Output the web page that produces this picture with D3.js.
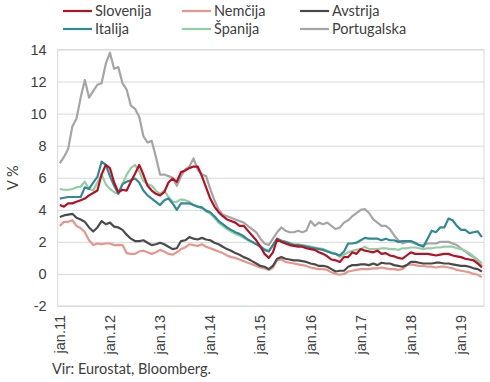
<!DOCTYPE html>
<html>
<head>
<meta charset="utf-8">
<script src="https://cdn.jsdelivr.net/npm/d3@7"></script>
<style>
html,body{margin:0;padding:0;background:#fff;}
svg{display:block;font-family:Lato,"Open Sans",sans-serif;}
</style>
</head>
<body>
<div id="chart"></div>
<script>
const tickLabels = ["jan.11","jan.12","jan.13","jan.14","jan.15","jan.16","jan.17","jan.18","jan.19"];
const yTicks = [-2,0,2,4,6,8,10,12,14];
const seriesNames = ["Slovenija","Nemčija","Avstrija","Italija","Španija","Portugalska"];
const seriesColors = ["#B80F24","#E8958F","#4A4A4A","#2F8A96","#93CFA3","#A5A5A5"];

const slovenija = [4.3,4.2,4.4,4.4,4.5,4.6,4.7,4.9,5.05,5.2,6.2,6.8,6.6,5.7,5.1,5.25,5.2,5.75,6.25,6.8,6.2,5.5,5.2,5.0,4.9,5.1,5.7,5.95,5.75,6.35,6.45,6.6,6.7,6.7,6.1,5.4,4.7,4.2,3.85,3.6,3.4,3.3,3.2,3.0,3.0,2.7,2.4,2.1,1.7,1.25,1.0,1.35,2.15,2.0,1.9,1.8,1.75,1.7,1.7,1.6,1.55,1.5,1.35,1.25,1.1,0.9,0.85,0.75,1.05,1.05,1.35,1.25,1.55,1.45,1.4,1.35,1.45,1.25,1.3,1.15,1.1,1.0,0.95,1.15,1.35,1.25,1.25,1.25,1.25,1.2,1.15,1.2,1.25,1.25,1.15,1.1,1.05,0.95,0.9,0.85,0.65,0.4];
const nemcija = [3.0,3.25,3.25,3.35,3.0,2.85,2.6,2.1,1.8,1.9,1.85,1.9,1.9,1.8,1.8,1.8,1.3,1.25,1.25,1.4,1.45,1.35,1.25,1.35,1.5,1.4,1.25,1.2,1.35,1.55,1.65,1.85,1.8,1.75,1.85,1.7,1.6,1.5,1.4,1.3,1.15,1.05,1.0,0.9,0.8,0.7,0.6,0.5,0.4,0.35,0.25,0.4,0.85,0.9,0.75,0.7,0.65,0.6,0.55,0.5,0.4,0.35,0.3,0.3,0.25,0.1,0.0,-0.05,0.0,0.15,0.2,0.25,0.3,0.3,0.3,0.35,0.35,0.4,0.35,0.3,0.3,0.25,0.3,0.55,0.6,0.55,0.5,0.5,0.45,0.45,0.4,0.45,0.45,0.4,0.35,0.25,0.2,0.15,0.1,0.0,-0.05,-0.2];
const avstrija = [3.55,3.65,3.7,3.75,3.5,3.4,3.25,2.9,2.65,2.9,3.3,3.1,3.2,2.95,2.9,2.75,2.45,2.2,2.05,2.05,2.1,1.95,1.8,1.85,1.95,1.85,1.7,1.55,1.6,2.05,2.1,2.3,2.2,2.15,2.25,2.15,2.1,1.95,1.85,1.7,1.55,1.45,1.3,1.2,1.05,0.95,0.8,0.65,0.5,0.45,0.3,0.5,0.95,1.05,0.95,0.9,0.85,0.85,0.8,0.75,0.65,0.6,0.5,0.5,0.45,0.3,0.15,0.2,0.2,0.45,0.55,0.55,0.6,0.6,0.55,0.65,0.55,0.7,0.65,0.65,0.55,0.5,0.45,0.55,0.75,0.75,0.7,0.65,0.65,0.65,0.7,0.7,0.65,0.65,0.6,0.55,0.5,0.5,0.45,0.35,0.3,0.15];
const italija = [4.7,4.75,4.8,4.8,4.8,4.8,5.4,5.3,5.7,6.05,7.0,6.8,6.1,5.5,5.0,5.6,5.75,5.85,5.95,5.7,5.2,4.9,4.7,4.5,4.3,4.6,4.7,4.4,4.0,4.4,4.4,4.4,4.3,4.2,4.15,3.95,3.85,3.6,3.3,3.1,2.9,2.75,2.6,2.5,2.35,2.15,2.0,1.85,1.7,1.5,1.4,1.8,2.2,2.05,2.0,1.9,1.8,1.8,1.75,1.7,1.65,1.6,1.55,1.5,1.4,1.3,1.25,1.15,1.4,1.9,1.9,1.95,2.1,2.25,2.2,2.2,2.2,2.1,2.2,2.1,2.1,2.0,2.05,2.05,2.05,1.95,1.8,1.7,2.2,2.7,2.6,2.9,2.9,3.45,3.35,3.0,2.75,2.75,2.55,2.6,2.65,2.3];
const spanija = [5.3,5.25,5.25,5.3,5.4,5.45,5.75,5.3,5.2,5.7,6.2,5.6,5.3,5.1,5.0,5.6,6.2,6.6,6.8,6.4,5.8,5.6,5.5,5.2,5.0,5.2,4.8,4.5,4.5,4.65,4.6,4.5,4.3,4.2,4.1,3.9,3.75,3.5,3.2,3.0,2.8,2.65,2.5,2.4,2.25,2.1,2.0,1.9,1.75,1.55,1.45,1.8,2.2,2.1,2.0,1.95,1.85,1.85,1.8,1.75,1.7,1.65,1.6,1.55,1.45,1.35,1.25,1.05,1.2,1.35,1.45,1.5,1.55,1.7,1.55,1.55,1.55,1.6,1.6,1.55,1.55,1.5,1.6,1.6,1.65,1.65,1.6,1.55,1.6,1.6,1.65,1.65,1.7,1.7,1.7,1.6,1.55,1.45,1.3,1.1,0.9,0.65];
const portugalska = [6.9,7.3,7.8,9.2,9.7,11.0,12.1,11.0,11.4,11.8,11.9,13.1,13.8,12.8,12.9,11.9,11.5,10.5,10.3,9.8,8.6,8.2,8.3,7.3,6.2,6.2,6.1,6.0,5.5,6.1,6.5,6.7,7.2,6.5,6.2,6.1,5.3,4.6,4.0,3.7,3.6,3.5,3.4,3.3,3.2,3.0,2.8,2.6,2.2,1.9,1.8,2.2,2.6,2.9,2.7,2.6,2.6,2.7,2.6,2.7,3.3,3.0,3.2,3.1,3.2,3.0,2.8,2.9,3.2,3.35,3.6,3.8,4.0,4.05,3.8,3.4,3.2,3.0,3.0,2.8,2.4,2.1,1.9,2.0,2.0,1.9,1.8,1.8,1.9,1.9,1.9,2.0,2.0,2.0,1.9,1.8,1.6,1.4,1.2,1.05,0.8,0.5];

const seriesValues = [slovenija, nemcija, avstrija, italija, spanija, portugalska];
const startYear = 2011, startMonth = 0;
const months = d3.range(slovenija.length).map(i => new Date(startYear, startMonth + i, 1));

const W = 490, H = 382;
const FS = 14.5;
const margin = {left: 57.7, right: 6, top: 49.5, bottom: 76};
const svg = d3.select("#chart").append("svg").attr("width", W).attr("height", H);

const x = d3.scaleBand().domain(months.map(d => +d)).range([margin.left, W - margin.right]);
const y = d3.scaleLinear().domain([-2, 14]).range([H - margin.bottom, margin.top]);
const xc = d => x(+d) + x.bandwidth() / 2;

const plotL = margin.left, plotR = W - margin.right, plotT = margin.top, plotB = H - margin.bottom;

const yAxis = d3.axisLeft(y).tickValues(yTicks).tickSize(-(plotR - plotL)).tickFormat(d => d);
const gy = svg.append("g").attr("transform", `translate(${plotL},0)`).call(yAxis);
gy.select(".domain").remove();
gy.selectAll(".tick line").attr("stroke", "#D9D9D9").attr("stroke-width", 1);
gy.selectAll(".tick text").attr("x", -11).attr("fill", "#404040").attr("font-size", FS);

svg.append("rect").attr("x", plotL).attr("y", plotT).attr("width", plotR - plotL).attr("height", plotB - plotT)
  .attr("fill", "none").attr("stroke", "#D9D9D9").attr("stroke-width", 1);

const janDates = months.filter(d => d.getMonth() === 0);
const xAxis = d3.axisBottom(x).tickValues(janDates.map(d => +d)).tickSize(0)
  .tickFormat((d, i) => tickLabels[i]);
const gx = svg.append("g").attr("transform", `translate(0,${plotB})`).call(xAxis);
gx.select(".domain").remove();
gx.selectAll(".tick text")
  .attr("transform", "rotate(-90)")
  .attr("text-anchor", "end")
  .attr("x", -9).attr("y", 0).attr("dy", "0.35em")
  .attr("fill", "#404040").attr("font-size", FS);

const line = d3.line().x((d, i) => xc(months[i])).y(d => y(d));
const order = [5, 4, 3, 1, 2, 0];
order.forEach(k => {
  svg.append("path").datum(seriesValues[k])
    .attr("fill", "none").attr("stroke", seriesColors[k]).attr("stroke-width", 2.2)
    .attr("stroke-linejoin", "round").attr("d", line);
});

svg.append("text").attr("transform", `translate(18,${(plotT + plotB) / 2}) rotate(-90)`)
  .attr("text-anchor", "middle").attr("fill", "#404040").attr("font-size", FS).text("V %");

const legX = [63, 182, 300], legY = [11, 29];
seriesNames.forEach((n, i) => {
  const cx = legX[i % 3], cy = legY[Math.floor(i / 3)];
  svg.append("line").attr("x1", cx).attr("x2", cx + 29).attr("y1", cy).attr("y2", cy)
    .attr("stroke", seriesColors[i]).attr("stroke-width", 2.2);
  svg.append("text").attr("x", cx + 32).attr("y", cy).attr("dy", "0.35em")
    .attr("fill", "#404040").attr("font-size", FS).text(n);
});

svg.append("text").attr("x", 52).attr("y", 374).attr("fill", "#404040").attr("font-size", FS)
  .text("Vir: Eurostat, Bloomberg.");
</script>
</body>
</html>
